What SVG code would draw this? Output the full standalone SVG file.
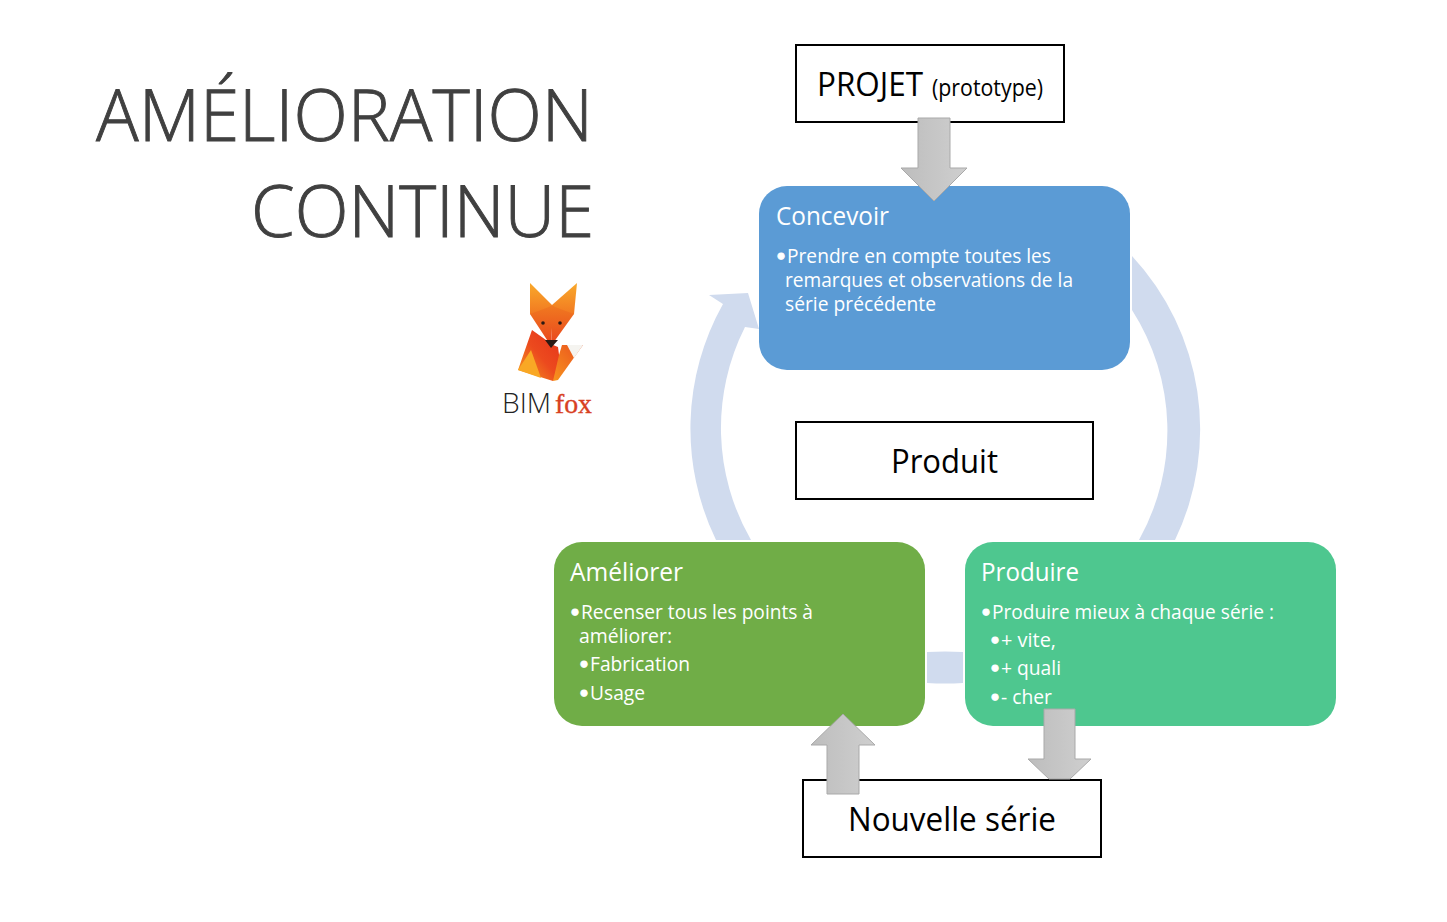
<svg xmlns="http://www.w3.org/2000/svg" width="1447" height="922" viewBox="0 0 1447 922">
<style>
text{font-family:"Open Sans","Noto Sans","Liberation Sans",sans-serif}
.title{font-size:72px;font-weight:300;fill:#404040;stroke:#404040;stroke-width:.9}
.head{font-size:25px;fill:#fff}
.body{font-size:20px;fill:#fff}
.bul{font-size:18px;font-weight:700;fill:#fff;stroke:#fff;stroke-width:1;text-anchor:middle;font-family:"DejaVu Sans",sans-serif}
.lab{font-size:32px;fill:#000}
.box{fill:#fff;stroke:#000;stroke-width:2}
.arrow{fill:url(#g);stroke:#a9a9a9;stroke-width:1}
.ring{fill:#d0dbee}
</style>
<defs>
<linearGradient id="g" x1="0" y1="0" x2="1" y2="0"><stop offset="0" stop-color="#bdbdbd"/><stop offset="1" stop-color="#cfcfcf"/></linearGradient>
<linearGradient id="e1" x1="0" y1="0" x2="0" y2="1"><stop offset="0" stop-color="#f9a92b"/><stop offset="1" stop-color="#f0701f"/></linearGradient>
<linearGradient id="h1" x1="0" y1="0" x2="0" y2="1"><stop offset="0" stop-color="#f07a20"/><stop offset="1" stop-color="#e9431d"/></linearGradient>
<linearGradient id="b1" x1="0" y1="1" x2="1" y2="0"><stop offset="0" stop-color="#f6a01f"/><stop offset=".5" stop-color="#ec4a1e"/><stop offset="1" stop-color="#e5321a"/></linearGradient>
<linearGradient id="t1" x1="0" y1="1" x2="1" y2="0"><stop offset="0" stop-color="#f7941e"/><stop offset="1" stop-color="#ea4f1e"/></linearGradient>
</defs>
<g id="title">
<text class="title" x="96" y="141" textLength="497" lengthAdjust="spacingAndGlyphs">AMÉLIORATION</text>
<text class="title" x="251" y="237" textLength="343" lengthAdjust="spacingAndGlyphs">CONTINUE</text>
</g>
<g id="logo">
<polygon points="532,330 553,345 558,347 561,370 553,381 518,370" fill="url(#b1)"/>
<polygon points="518,370 531,350 541,378" fill="#f9a825"/>
<polygon points="562,345 583,345 558,380 553,381 559,355" fill="url(#t1)"/>
<polygon points="567,345 583,345 574,358" fill="#f5f4f0"/>
<polygon points="530,283 552,305 549,320 530,314" fill="url(#e1)"/>
<polygon points="577,283 552,305 555,320 574,314" fill="url(#e1)"/>
<polygon points="530,314 549,307 552,305 552,328 551,346" fill="url(#h1)"/>
<polygon points="574,314 555,307 552,305 552,328 551,346" fill="url(#h1)"/>
<polygon points="545,340 558,340 551,348" fill="#2b1a14"/>
<circle cx="543" cy="323" r="1.8" fill="#2b1a14"/>
<circle cx="560" cy="323" r="1.8" fill="#2b1a14"/>
<text x="502" y="413" font-size="27" textLength="49" lengthAdjust="spacingAndGlyphs" style="font-family:'Open Sans',sans-serif;font-weight:300;fill:#222">BIM</text>
<text x="555" y="413" font-size="28" textLength="37" lengthAdjust="spacingAndGlyphs" style="font-family:'Liberation Serif',serif;fill:#d8401f;stroke:#d8401f;stroke-width:.4">fox</text>
</g>
<g id="projet"><rect class="box" x="796" y="45" width="268" height="77"/>
<text class="lab" x="817" y="96" textLength="106" lengthAdjust="spacingAndGlyphs">PROJET</text>
<text x="932" y="96" font-size="23" textLength="111" lengthAdjust="spacingAndGlyphs">(prototype)</text></g>
<g id="concevoir"><rect x="759" y="186" width="371" height="184" rx="28" fill="#5b9bd5"/>
<text class="head" x="776" y="225" textLength="113" lengthAdjust="spacingAndGlyphs">Concevoir</text>
<text class="bul" x="781" y="263">•</text>
<text class="body" x="787" y="263" textLength="264" lengthAdjust="spacingAndGlyphs">Prendre en compte toutes les</text>
<text class="body" x="785" y="287" textLength="288" lengthAdjust="spacingAndGlyphs">remarques et observations de la</text>
<text class="body" x="785" y="311" textLength="151" lengthAdjust="spacingAndGlyphs">série précédente</text></g>
<g id="ameliorer"><rect x="554" y="542" width="371" height="184" rx="28" fill="#70ad47"/>
<text class="head" x="570" y="581" textLength="113" lengthAdjust="spacingAndGlyphs">Améliorer</text>
<text class="bul" x="575" y="619">•</text>
<text class="body" x="581" y="619" textLength="232" lengthAdjust="spacingAndGlyphs">Recenser tous les points à</text>
<text class="body" x="579" y="643" textLength="93" lengthAdjust="spacingAndGlyphs">améliorer:</text>
<text class="bul" x="584" y="671">•</text>
<text class="body" x="590" y="671" textLength="100" lengthAdjust="spacingAndGlyphs">Fabrication</text>
<text class="bul" x="584" y="700">•</text>
<text class="body" x="590" y="700" textLength="55" lengthAdjust="spacingAndGlyphs">Usage</text></g>
<g id="produire"><rect x="965" y="542" width="371" height="184" rx="28" fill="#4ec78f"/>
<text class="head" x="981" y="581" textLength="98" lengthAdjust="spacingAndGlyphs">Produire</text>
<text class="bul" x="986" y="619">•</text>
<text class="body" x="992" y="619" textLength="282" lengthAdjust="spacingAndGlyphs">Produire mieux à chaque série :</text>
<text class="bul" x="995" y="647">•</text>
<text class="body" x="1001" y="647" textLength="55" lengthAdjust="spacingAndGlyphs">+ vite,</text>
<text class="bul" x="995" y="675">•</text>
<text class="body" x="1001" y="675" textLength="60" lengthAdjust="spacingAndGlyphs">+ quali</text>
<text class="bul" x="995" y="704">•</text>
<text class="body" x="1001" y="704" textLength="51" lengthAdjust="spacingAndGlyphs">- cher</text></g>
<g id="produit"><rect class="box" x="796" y="422" width="297" height="77"/>
<text class="lab" x="891" y="473" textLength="107" lengthAdjust="spacingAndGlyphs">Produit</text></g>
<g id="serie"><rect class="box" x="803" y="780" width="298" height="77"/>
<text class="lab" x="848" y="831" textLength="208" lengthAdjust="spacingAndGlyphs">Nouvelle série</text></g>
<g id="connectors">
<path class="ring" d="M1132,256 A255,255 0 0 1 1175,540 L1139,540 A224,224 0 0 0 1132,310 Z"/>
<path class="ring" d="M716,540 A255,255 0 0 1 723,304 L709,295 L748,293 L759,329 L745,327 A224,224 0 0 0 751,540 Z"/>
<path class="ring" d="M927,652 Q945,651 963,652 L963,683 Q945,684 927,683 Z"/>
<polygon class="arrow" points="1044,709 1075,709 1075,759 1091,759 1070,779 1049,779 1028,759 1044,759"/>
<polygon class="arrow" points="918,118 950,118 950,168 967,168 934,201 901,168 918,168"/>
<polygon class="arrow" points="843,714 875,745 859,745 859,794 827,794 827,745 811,745"/>
</g>
</svg>
